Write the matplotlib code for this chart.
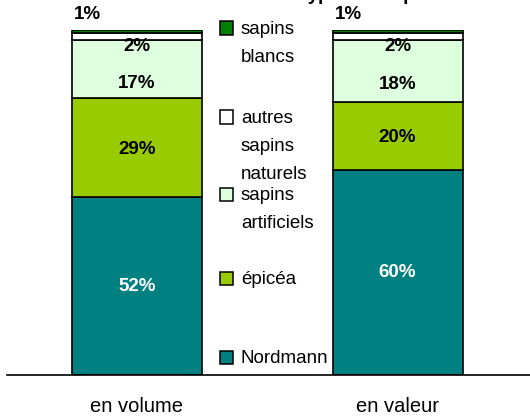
import numpy as np
import matplotlib
matplotlib.use("Agg")
import matplotlib.pyplot as plt
from matplotlib.patches import Rectangle

plt.rcParams["font.family"] = ["Liberation Sans", "DejaVu Sans"]

# data
categories = ["en volume", "en valeur"]
nordmann = [52, 60]
epicea = [29, 20]
artificiels = [17, 18]
autres = [2, 2]
blancs = [1, 1]
series_names = ["Nordmann", "épicéa", "sapins artificiels", "autres sapins naturels", "sapins blancs"]
legend_labels = ["sapins\nblancs", "autres\nsapins\nnaturels", "sapins\nartificiels", "épicéa", "Nordmann"]
title = "Les types de sapins achetés"

colors = ["#008080", "#99CC00", "#DDFFDD", "#FFFFFF", "#008000"]
text_colors = ["white", "black", "black", "black", "black"]
# vertical nudges of value labels (pixels), None = above the bar
label_dy = [0, -2, -14, -10, None]

W, H = 530, 417
fig = plt.figure(figsize=(W / 100, H / 100), dpi=100)

def fx(px):
    return px / W

def fy(py):
    return 1 - py / H

ax = fig.add_axes([fx(7), fy(375), fx(530) - fx(7), fy(30) - fy(375)])
x = np.arange(len(categories))
bw = 0.499
stack = [nordmann, epicea, artificiels, autres, blancs]
bottom = np.zeros(len(categories))
for i, vals in enumerate(stack):
    vals = np.array(vals, dtype=float)
    ax.bar(x, vals, bw, bottom=bottom, color=colors[i], edgecolor="black", linewidth=1.2)
    for j in range(len(categories)):
        if label_dy[i] is None:
            ax.annotate("{}%".format(int(vals[j])), (x[j] - bw / 2 + 0.06, bottom[j] + vals[j]),
                        xytext=(0, 7), textcoords="offset pixels", ha="center", va="bottom",
                        fontsize=13.5, fontweight="bold", color=text_colors[i])
        else:
            ax.annotate("{}%".format(int(vals[j])), (x[j], bottom[j] + vals[j] / 2),
                        xytext=(0, label_dy[i]), textcoords="offset pixels", ha="center", va="center",
                        fontsize=13.5, fontweight="bold", color=text_colors[i])
    bottom += vals

ax.set_xlim(-0.499, 1.5086)
ax.set_ylim(0, 101)
ax.set_yticks([])
ax.set_xticks(x, categories, fontsize=14.5)
ax.tick_params(axis="x", length=0, pad=16)
for s in ["top", "left", "right"]:
    ax.spines[s].set_visible(False)
ax.spines["bottom"].set_linewidth(1.2)
ax.patch.set_alpha(0)

# legend, Excel style: entries top to bottom
leg_colors = colors[::-1]
leg_y = [28, 117, 194, 278, 357]
for c, lab, yy in zip(leg_colors, legend_labels, leg_y):
    fig.patches.append(Rectangle((fx(220), fy(yy + 6.5)), fx(13), fy(0) - fy(13),
                                 transform=fig.transFigure, facecolor=c, edgecolor="black",
                                 linewidth=1.1))
    fig.text(fx(241), fy(yy - 7), lab, ha="left", va="top", fontsize=13.5,
             linespacing=1.85, color="black")

fig.text(fx(264), fy(0.5), title, ha="left", va="baseline", fontsize=13.5, fontweight="bold")

fig.savefig("out.png", dpi=100)
